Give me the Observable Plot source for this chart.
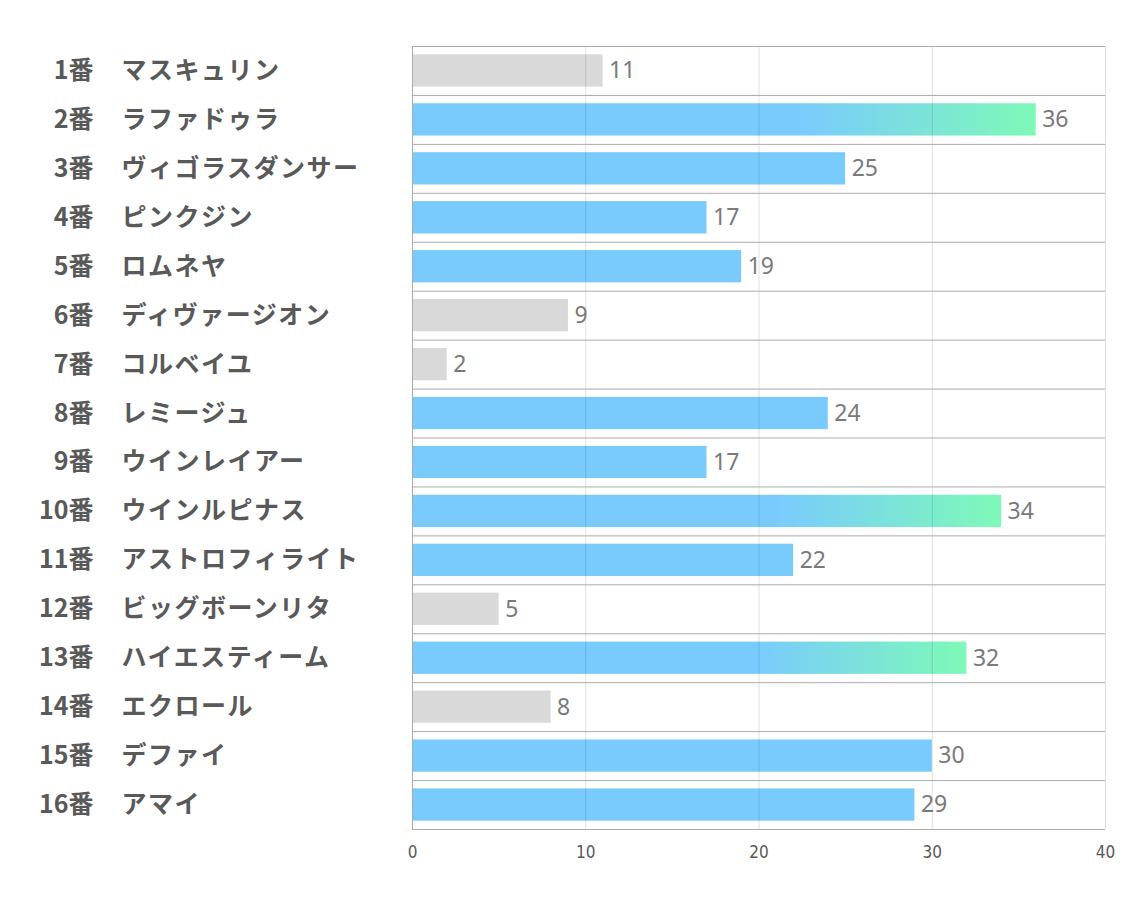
<!DOCTYPE html>
<html><head><meta charset="utf-8">
<script src="https://cdn.jsdelivr.net/npm/d3@7"></script>
<script src="https://cdn.jsdelivr.net/npm/@observablehq/plot@0.6"></script>
<style>body{margin:0;background:#fff;} .nm text{letter-spacing:1.5px;}</style>
</head><body><div id="chart"></div>
<script>
const numbers = ["1番","2番","3番","4番","5番","6番","7番","8番","9番","10番","11番","12番","13番","14番","15番","16番"];
const names = ["マスキュリン","ラファドゥラ","ヴィゴラスダンサー","ピンクジン","ロムネヤ","ディヴァージオン","コルベイユ","レミージュ","ウインレイアー","ウインルピナス","アストロフィライト","ビッグボーンリタ","ハイエスティーム","エクロール","デファイ","アマイ"];
const values = [11,36,25,17,19,9,2,24,17,34,22,5,32,8,30,29];
const groups = ["gray","grad","blue","blue","blue","gray","gray","blue","blue","grad","blue","gray","grad","gray","blue","blue"];
const xTicks = [0,10,20,30,40];

const data = numbers.map((n,i)=>({num:n, name:names[i], value:values[i], group:groups[i]}));
const fills = {gray:"#D9D9D9", blue:"#79CBFD", grad:"url(#barGrad)"};

const W = 1134, H = 907, mT = 46, mB = 78, mL = 412, mR = 29;
const step = (H - mT - mB) / numbers.length;

const defs = () => {
  const d = d3.create("svg:defs");
  const g = d.append("linearGradient").attr("id","barGrad").attr("x1","0").attr("x2","1").attr("y1","0").attr("y2","0");
  g.append("stop").attr("offset","0.62").attr("stop-color","#79CBFD");
  g.append("stop").attr("offset","1").attr("stop-color","#7EF9B8");
  return d.node();
};

const chart = Plot.plot({
  width: W, height: H,
  marginTop: mT, marginBottom: mB, marginLeft: mL, marginRight: mR,
  style: {background:"#fff"},
  x: {domain:[0,40], ticks: xTicks, axis: null},
  y: {domain: numbers, paddingInner: 0.34, paddingOuter: 0.17, round: false, axis: null},
  marks: [
    defs,
    Plot.barX(data, {x: "value", y: "num", fill: d => fills[d.group]}),
    Plot.gridX(xTicks, {stroke:"#000", strokeOpacity:0.12}),
    Plot.ruleY(numbers, {y: d=>d, dy: -step/2, stroke:"#ababab", strokeWidth:1}),
    Plot.ruleY([numbers[numbers.length-1]], {y: d=>d, dy: step/2, stroke:"#ababab", strokeWidth:1}),
    Plot.ruleX([0], {stroke:"#ababab"}),
    Plot.text(data, {x:"value", y:"num", text: d=>String(d.value), textAnchor:"start", dx:6, fill:"#7a7a7a", fontSize:23, fontFamily:"'Noto Sans', sans-serif"}),
    Plot.text(data, {y:"num", frameAnchor:"left", text:"num", textAnchor:"end", dx:93-mL, fill:"#595959", fontSize:25, fontWeight:"bold", fontFamily:"'Noto Sans CJK JP', sans-serif"}),
    Plot.text(data, {y:"num", frameAnchor:"left", text:"name", textAnchor:"start", dx:121-mL, fill:"#595959", fontSize:25, fontWeight:"bold", fontFamily:"'Noto Sans CJK JP', sans-serif", className:"nm"}),
    Plot.axisX(xTicks, {anchor:"bottom", label:null, tickSize:0, tickPadding:16, fontSize:17, fill:"#595959", fontFamily:"'Liberation Sans Narrow', 'DejaVu Sans Condensed', sans-serif", tickFormat: d=>String(d)})
  ]
});
document.getElementById("chart").appendChild(chart);
</script>
</body></html>
